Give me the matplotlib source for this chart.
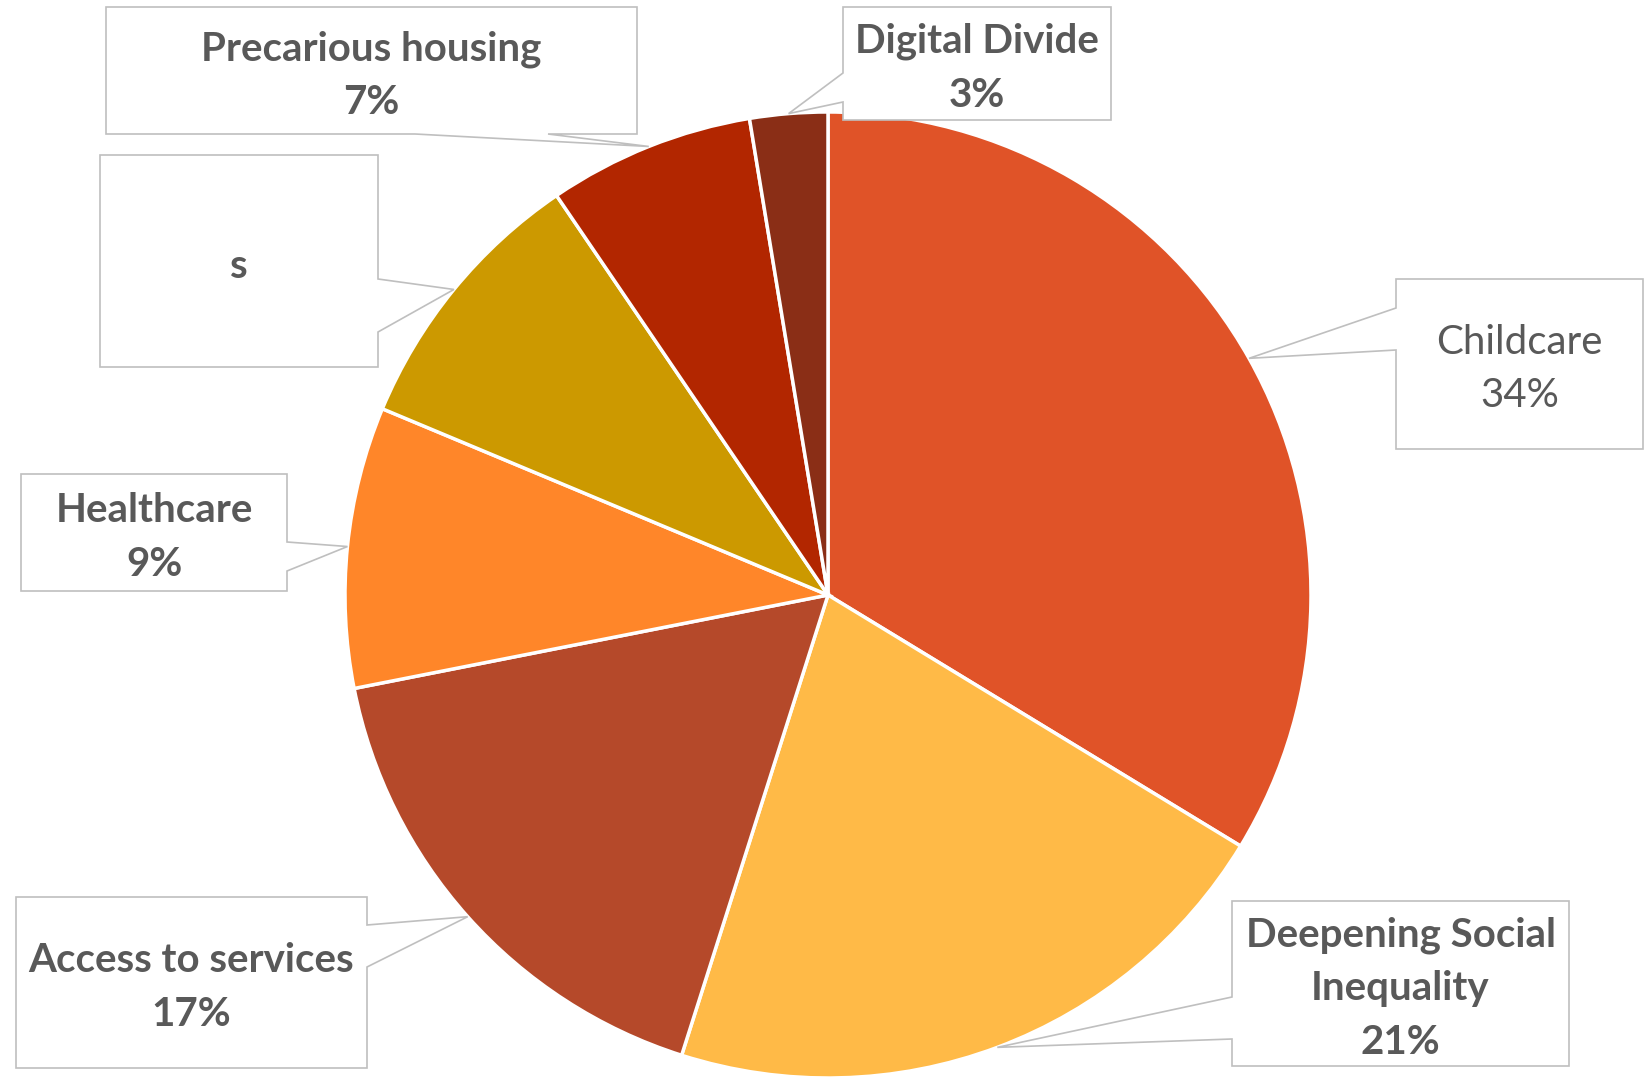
import matplotlib
matplotlib.use('Agg')
import matplotlib.pyplot as plt
import numpy as np
from matplotlib.patches import Polygon

# Share of responses per theme (clockwise from 12 o'clock)
categories = ['Childcare', 'Deepening Social\nInequality', 'Access to services', 'Healthcare',
              's', 'Precarious housing', 'Digital Divide']
values = [33.7, 21.2, 17.0, 9.4, 9.2, 6.9, 2.6]
show_pct = [True, True, True, True, False, True, True]
bold = [False, True, True, True, True, True, True]
colors = ['#E05328', '#FFBA47', '#B5492A', '#FF8629', '#CC9900', '#B22600', '#8A2E16']

# callout boxes in image pixels: (x0, y0, x1, y1), side of the pointer, pointer base
callouts = [
    ((1396, 279, 1643, 449), 'left', (308, 350)),
    ((1232, 901, 1569, 1066), 'left', (997, 1039)),
    ((16, 897, 367, 1068), 'right', (925, 967)),
    ((21, 474, 287, 591), 'right', (542, 571)),
    ((100, 155, 378, 367), 'right', (279, 332)),
    ((106, 7, 637, 134), 'bottom', (415, 548)),
    ((843, 7, 1111, 120), 'left', (73, 102)),
]

W, H = 1652, 1078
cx, cy, R = 828, 595, 483
text_color = '#595959'

fig = plt.figure(figsize=(W / 100, H / 100), dpi=100)
ax = fig.add_axes([0, 0, 1, 1])

wedges, _ = ax.pie(values, colors=colors, startangle=90, counterclock=False,
                   center=(cx, H - cy), radius=R,
                   wedgeprops=dict(edgecolor='white', linewidth=2.5))
ax.set_xlim(0, W)
ax.set_ylim(0, H)
ax.set_aspect('auto')
ax.axis('off')

total = sum(values)
for i, (w, (box, side, notch)) in enumerate(zip(wedges, callouts)):
    mid = np.deg2rad((w.theta1 + w.theta2) / 2)
    tip = (cx + R * np.cos(mid), H - cy + R * np.sin(mid))
    x0, y0, x1, y1 = box
    y0, y1 = H - y0, H - y1
    n0, n1 = notch
    pts = [(x0, y0), (x1, y0)]
    if side == 'right':
        pts += [(x1, H - n0), tip, (x1, H - n1)]
    pts.append((x1, y1))
    if side == 'bottom':
        pts += [(n1, y1), tip, (n0, y1)]
    pts.append((x0, y1))
    if side == 'left':
        pts += [(x0, H - n1), tip, (x0, H - n0)]
    ax.add_patch(Polygon(pts, closed=True, facecolor='white', edgecolor='#BFBFBF',
                         linewidth=1.2, zorder=5))

    label = categories[i]
    if show_pct[i]:
        label += '\n%d%%' % round(values[i] / total * 100)
    ax.text((x0 + x1) / 2, (y0 + y1) / 2 - 5, label, ha='center', va='center',
            multialignment='center', fontsize=29, family='Lato',
            fontweight='bold' if bold[i] else 'normal', color=text_color,
            linespacing=1.55, zorder=6)

fig.savefig('out.png', dpi=100)
